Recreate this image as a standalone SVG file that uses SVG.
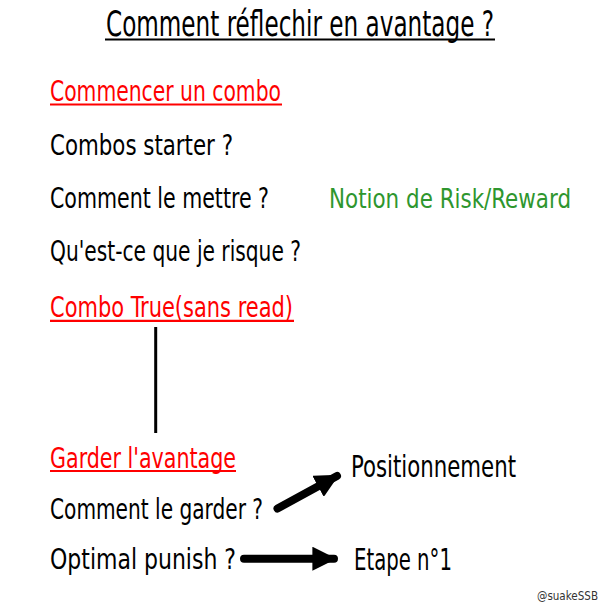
<svg xmlns="http://www.w3.org/2000/svg" width="600" height="604" viewBox="0 0 600 604">
<style>
text{font-family:"Liberation Sans Narrow","DejaVu Sans Condensed","Liberation Sans",sans-serif;}
.b{fill:#000;font-size:28px;}
.r{fill:#ff0000;font-size:28px;}
.g{fill:#2e962e;font-size:26px;}
.ul{stroke-width:2.2;}
.ulr{stroke:#ff0000;}
.ulk{stroke:#000;}
.conn{stroke:#000;fill:none;}
</style>
<defs>
<marker id="ah" viewBox="0 0 10 10" refX="9" refY="5" markerWidth="3" markerHeight="3" orient="auto" markerUnits="strokeWidth">
<path d="M0,0 L10,5 L0,10 Z" fill="#000"/>
</marker>
</defs>
<rect width="600" height="604" fill="#fff"/>
<g id="title">
<text transform="translate(106,36) scale(1,1.1)" x="0" y="0" style="font-size:32px" fill="#000" textLength="388" lengthAdjust="spacingAndGlyphs">Comment réflechir en avantage ?</text>
<line class="ul ulk" x1="105" y1="39.5" x2="495" y2="39.5"/>
</g>
<g id="commencer">
<text class="r" x="50" y="101" textLength="231" lengthAdjust="spacingAndGlyphs">Commencer un combo</text>
<line class="ul ulr" x1="50" y1="104.5" x2="282" y2="104.5"/>
</g>
<g id="starter"><text class="b" x="50" y="154.5" textLength="183" lengthAdjust="spacingAndGlyphs">Combos starter ?</text></g>
<g id="mettre"><text class="b" x="50" y="207.5" textLength="219" lengthAdjust="spacingAndGlyphs">Comment le mettre ?</text></g>
<g id="risk"><text class="g" transform="translate(329,207.5) scale(1,1.04)" x="0" y="0" textLength="242" lengthAdjust="spacingAndGlyphs">Notion de Risk/Reward</text></g>
<g id="risque"><text class="b" x="50" y="261" textLength="251" lengthAdjust="spacingAndGlyphs">Qu'est-ce que je risque ?</text></g>
<g id="true">
<text class="r" x="50" y="317" textLength="243" lengthAdjust="spacingAndGlyphs">Combo True(sans read)</text>
<line class="ul ulr" x1="50" y1="320.8" x2="294" y2="320.8"/>
</g>
<g id="garder">
<text class="r" x="50" y="467.5" textLength="186" lengthAdjust="spacingAndGlyphs">Garder l'avantage</text>
<line class="ul ulr" x1="50" y1="471" x2="236" y2="471"/>
</g>
<g id="garderq"><text class="b" x="50" y="519" textLength="213" lengthAdjust="spacingAndGlyphs">Comment le garder ?</text></g>
<g id="optimal"><text class="b" x="50" y="569" textLength="186" lengthAdjust="spacingAndGlyphs">Optimal punish ?</text></g>
<g id="positionnement"><text class="b" x="351" y="477" style="font-size:30px" textLength="165" lengthAdjust="spacingAndGlyphs">Positionnement</text></g>
<g id="etape"><text class="b" x="354" y="569.5" style="font-size:30px" textLength="98" lengthAdjust="spacingAndGlyphs">Etape n°1</text></g>
<g id="credit"><text x="537" y="600" style="font-size:12px" fill="#333" textLength="61" lengthAdjust="spacingAndGlyphs">@suakeSSB</text></g>
<g id="connectors">
<line class="conn" x1="155.7" y1="327" x2="155.7" y2="433" stroke-width="3"/>
<line class="conn" x1="277.5" y1="508.5" x2="337" y2="476" stroke-width="8" stroke-linecap="round" marker-end="url(#ah)"/>
<line class="conn" x1="244" y1="558.7" x2="334" y2="558.7" stroke-width="8" stroke-linecap="round" marker-end="url(#ah)"/>
</g>
</svg>
